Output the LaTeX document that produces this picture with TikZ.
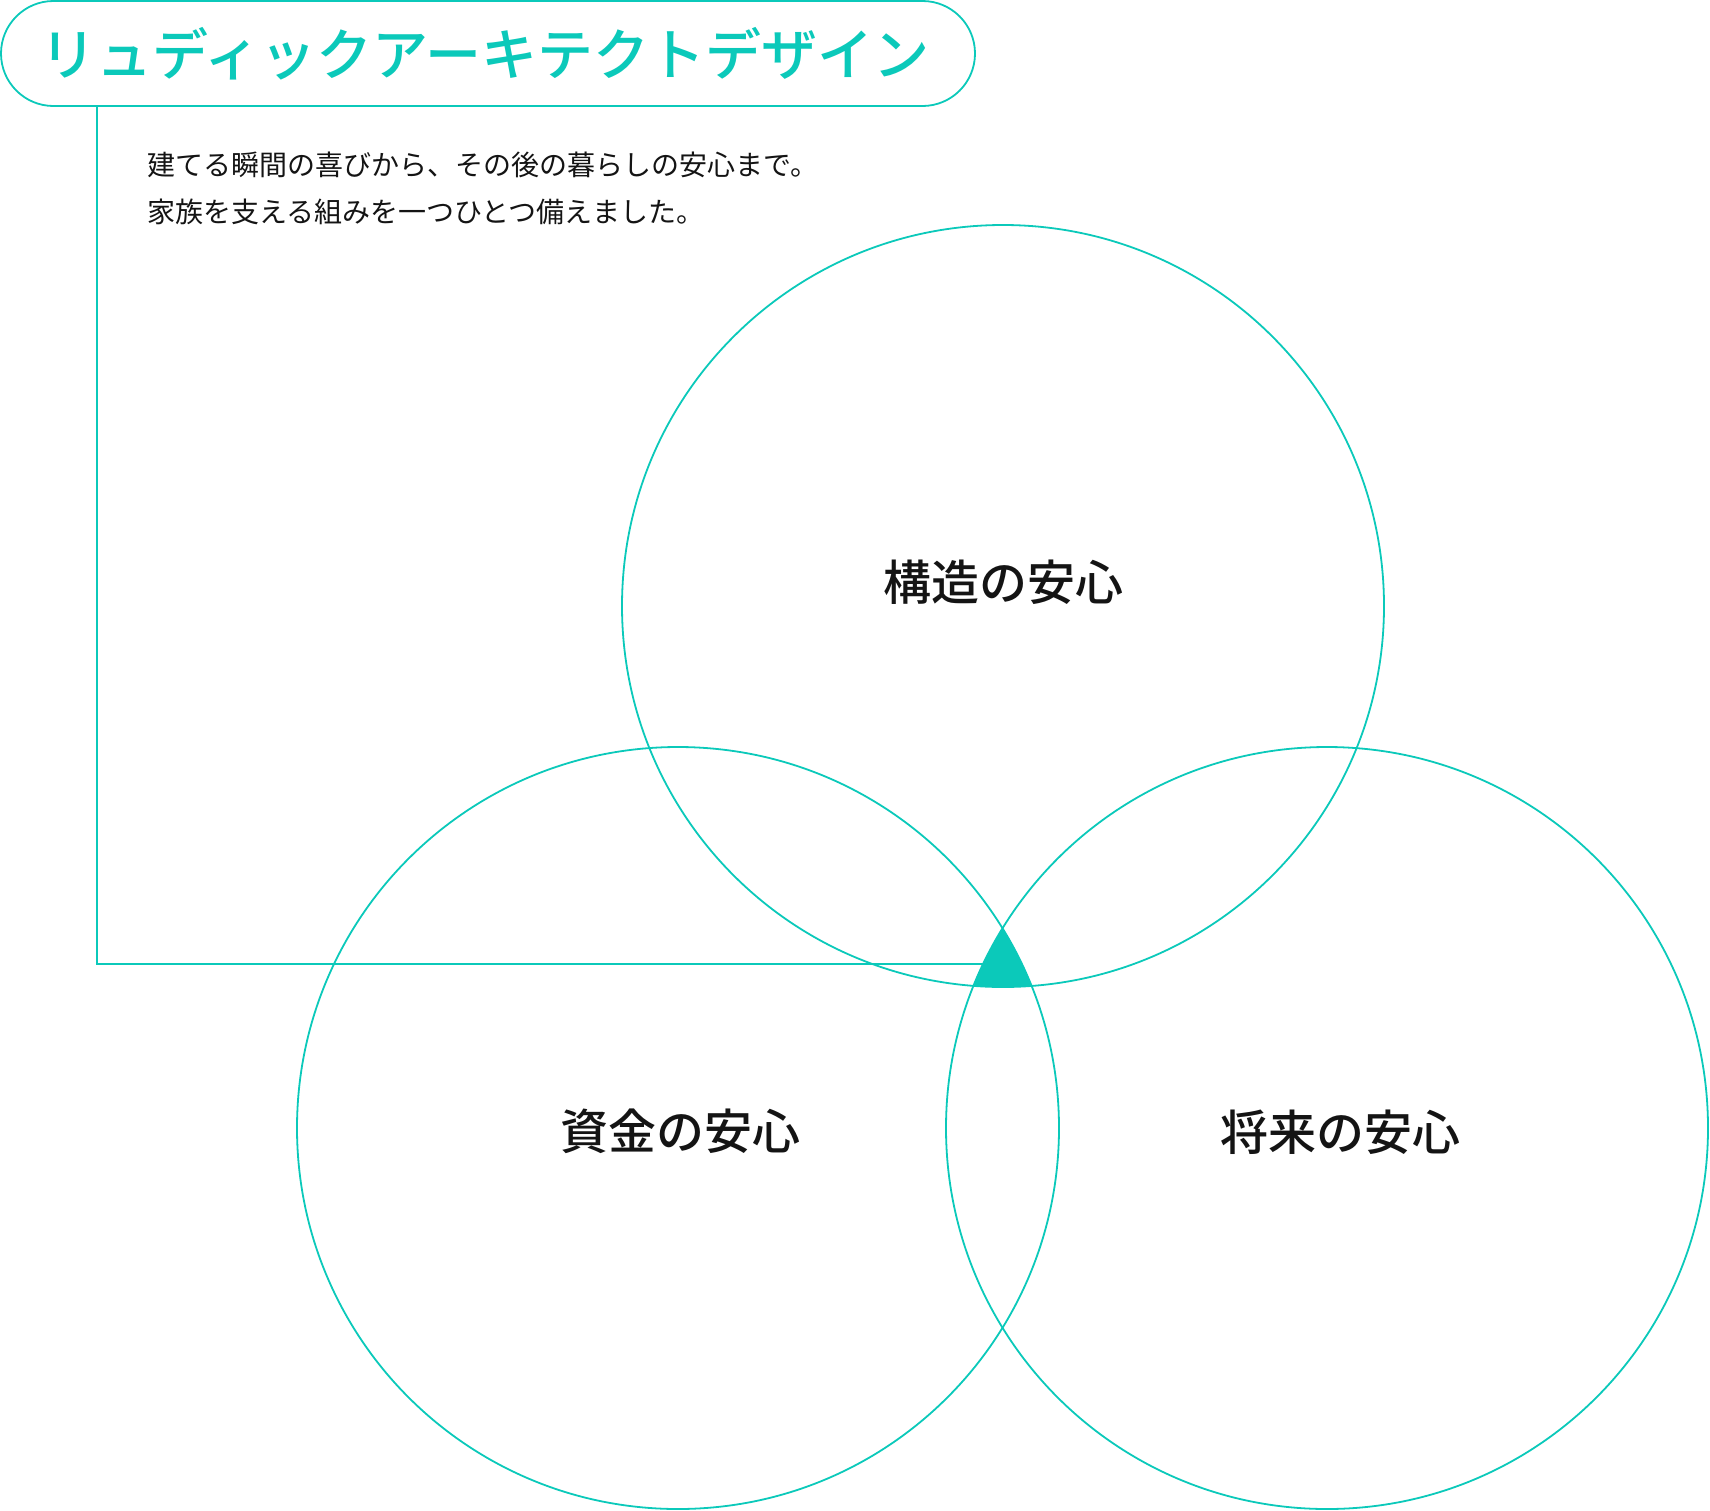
\documentclass[tikz,border=0pt]{standalone}
\usepackage{fontspec}
\newfontfamily\jp{Noto Sans CJK JP}
\newfontfamily\jpm{Noto Sans CJK JP Medium}
\definecolor{teal1}{RGB}{11,201,186}
\definecolor{ink}{RGB}{20,20,20}
\begin{document}
\begin{tikzpicture}[x=1pt,y=-1pt,
  tealline/.style={draw=teal1,line width=1.8pt},
  pill/.style={tealline,rounded corners=52.5pt,minimum width=974pt,minimum height=105pt,inner sep=0pt},
  titletext/.style={inner sep=0pt,text=teal1,font=\jpm\fontsize{56}{60}\selectfont},
  body/.style={anchor=west,inner sep=0pt,text=ink,font=\jp\fontsize{28}{30}\selectfont},
  lbl/.style={inner sep=0pt,text=ink,font=\jpm\fontsize{48}{52}\selectfont}]
\useasboundingbox (0,0) rectangle (1710,1510);
% circle centres
\coordinate (ctop) at (1003,606);
\coordinate (cleft) at (678,1128);
\coordinate (cright) at (1327,1128);
% frame line
\coordinate (fstart) at (97,106);
\coordinate (fcorner) at (97,964);
\coordinate (fend) at (1003,964);
\draw[tealline] (fstart) -- (fcorner) -- (fend);
% title pill
\node[pill] (title) at (488,53.5) {};
\node[titletext] (titlelabel) at (485,53.5) {リュディックアーキテクトデザイン};
% body text
\node[body] (line1) at (147,165) {建てる瞬間の喜びから、その後の暮らしの安心まで。};
\node[body] (line2) at (147,212) {家族を支える組みを一つひとつ備えました。};
% central intersection
\begin{scope}
  \clip (ctop) circle (381);
  \clip (cleft) circle (381);
  \fill[teal1] (cright) circle (381);
\end{scope}
% circles
\draw[tealline] (ctop) circle (381);
\draw[tealline] (cleft) circle (381);
\draw[tealline] (cright) circle (381);
% labels
\node[lbl] (ltop) at (1003,582) {構造の安心};
\node[lbl] (lleft) at (680,1131) {資金の安心};
\node[lbl] (lright) at (1340,1132) {将来の安心};
\end{tikzpicture}
\end{document}
